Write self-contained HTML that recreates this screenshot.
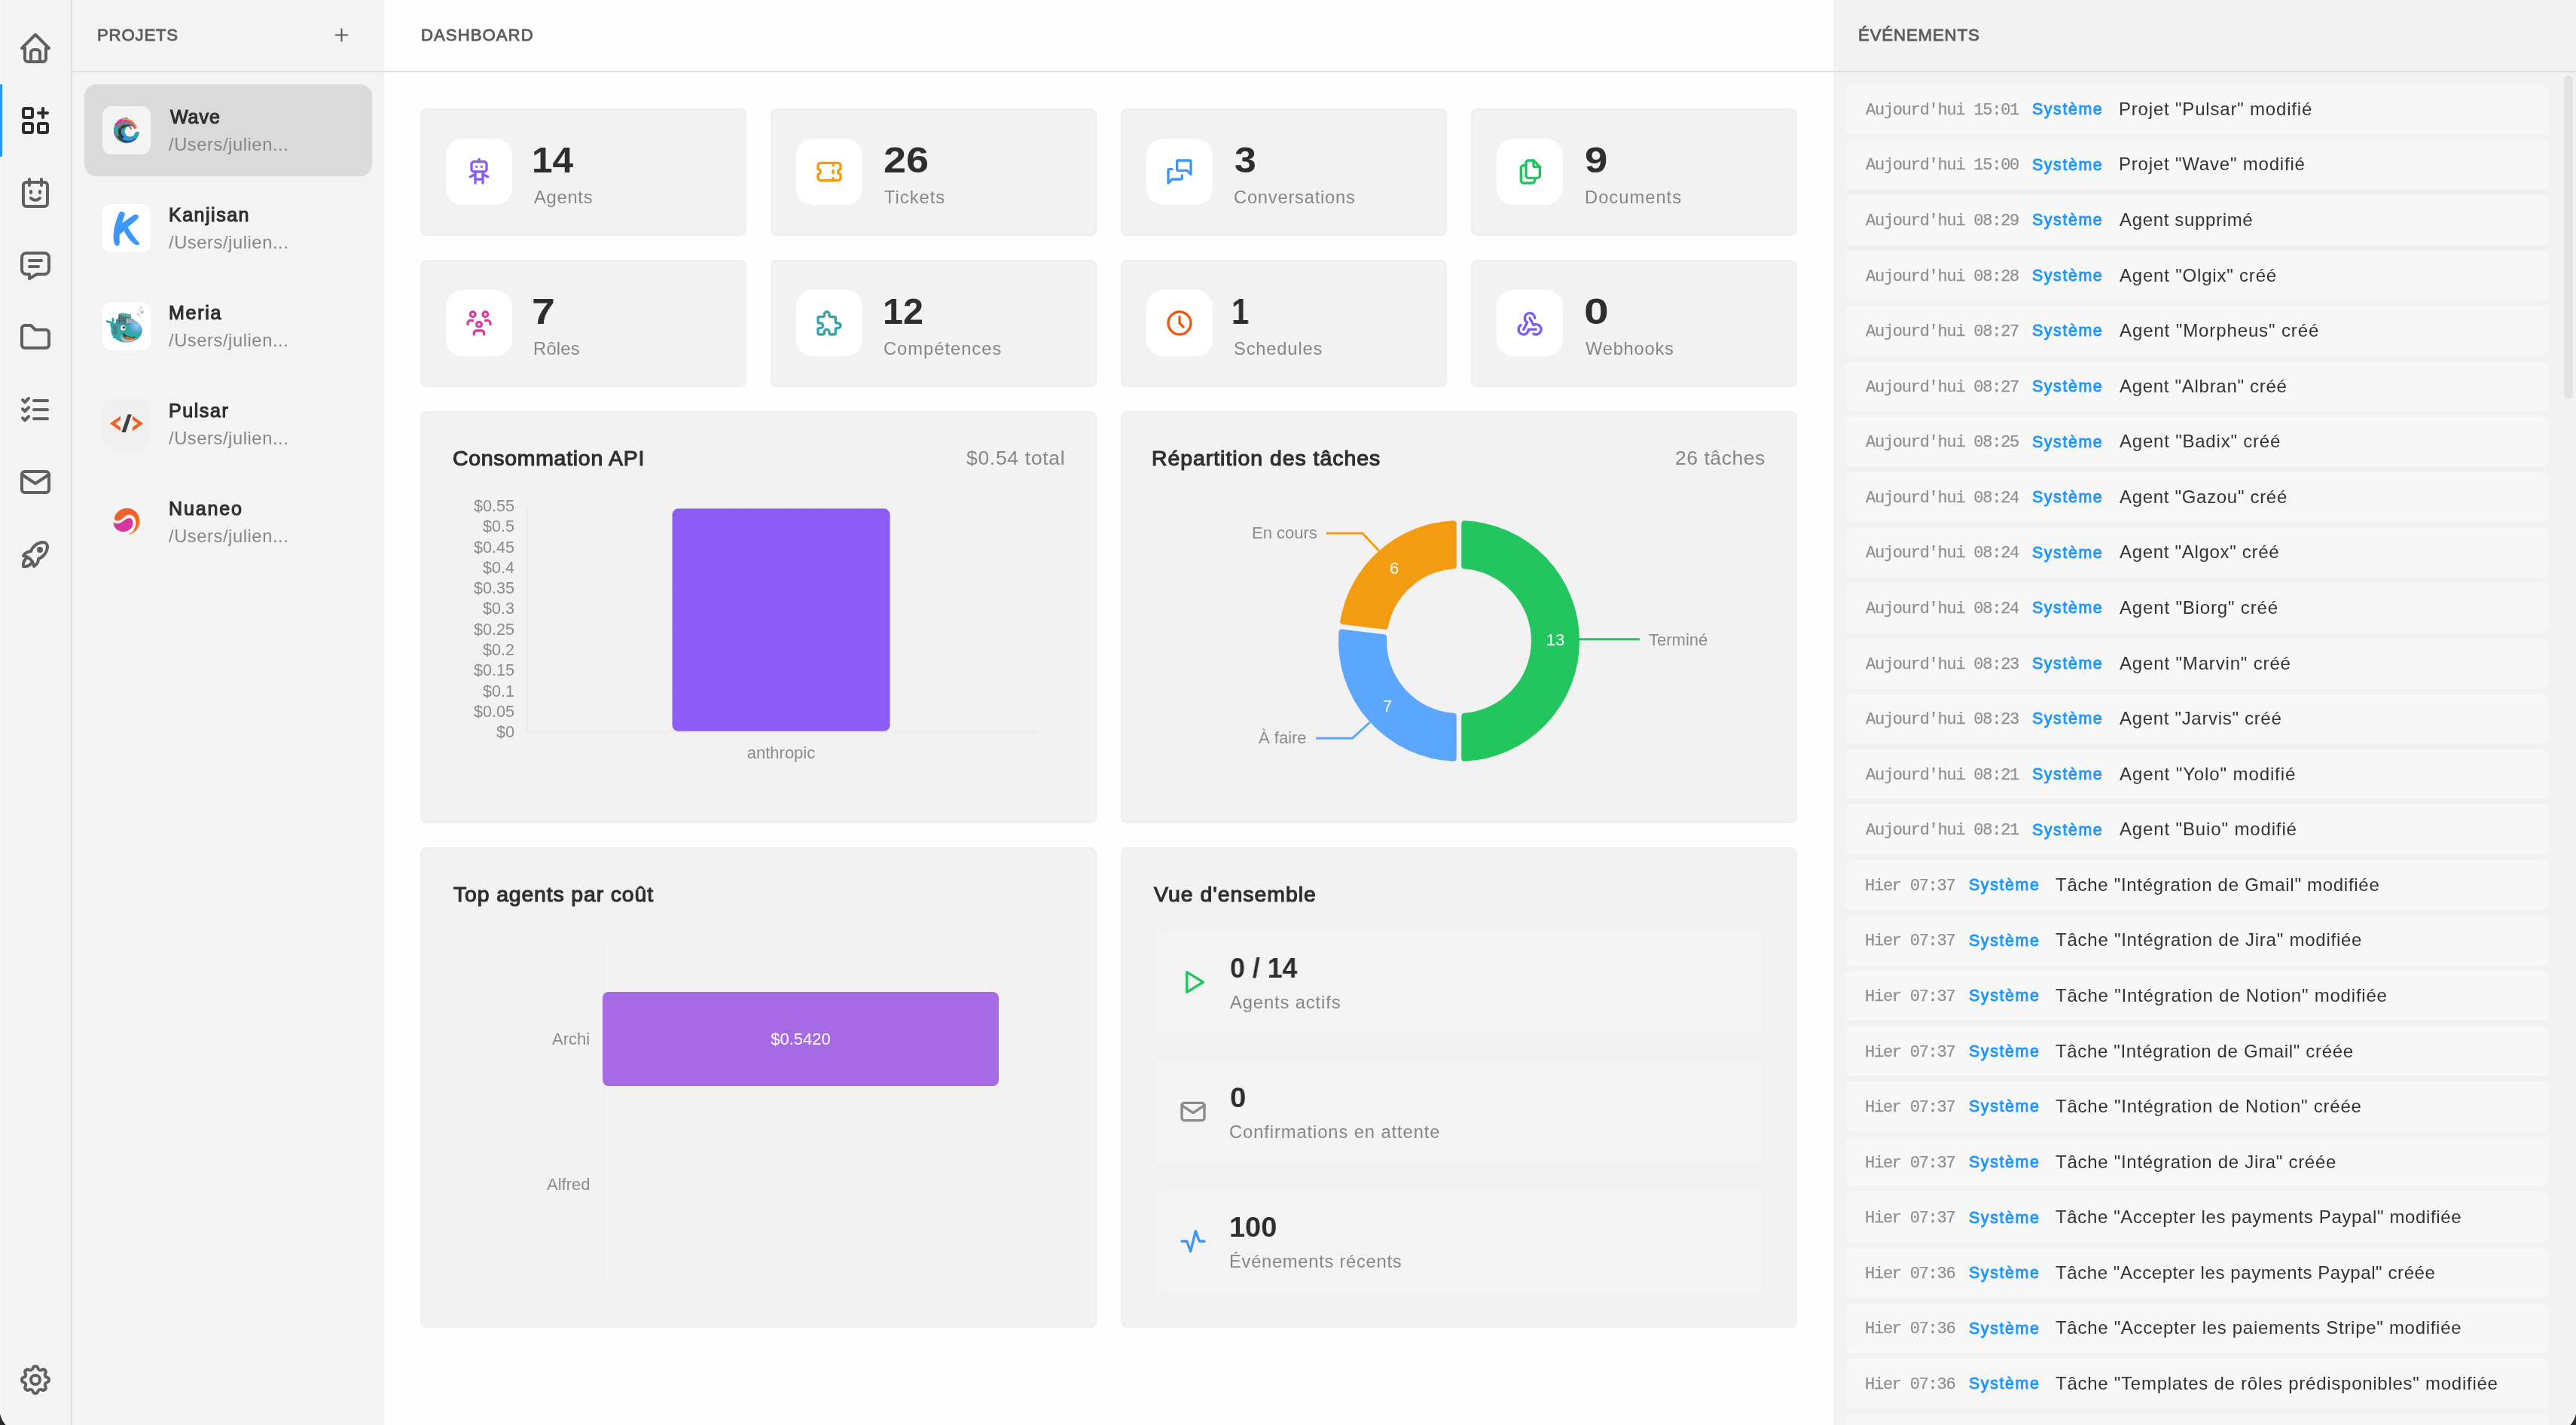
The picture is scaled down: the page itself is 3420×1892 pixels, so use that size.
<!DOCTYPE html>
<html lang="fr"><head><meta charset="utf-8"><title>Dashboard</title>
<style>
html,body{margin:0;padding:0}
body{width:3420px;height:1892px;position:relative;overflow:hidden;background:#f3f3f3;font-family:'Liberation Sans',sans-serif}
.b{position:absolute;display:block}
.t{position:absolute;white-space:pre;line-height:1;font-family:'Liberation Sans',sans-serif;will-change:transform}
</style></head><body>
<div class="b" style="left:0px;top:0px;width:96px;height:1892px;background:#f3f3f3;border-radius:0px;"></div>
<div class="b" style="left:0px;top:0px;width:2px;height:1892px;background:#f7f7f7;border-radius:0px;"></div>
<div class="b" style="left:94px;top:0px;width:2px;height:1892px;background:#e1e1e1;border-radius:0px;"></div>
<div class="b" style="left:96px;top:0px;width:414px;height:1892px;background:#f3f3f3;border-radius:0px;"></div>
<div class="b" style="left:510px;top:0px;width:1924px;height:1892px;background:#fefefe;border-radius:0px;"></div>
<div class="b" style="left:2434px;top:0px;width:986px;height:1892px;background:#f2f2f2;border-radius:0px;"></div>
<div class="b" style="left:96px;top:94px;width:3324px;height:2px;background:#dedede;border-radius:0px;"></div>
<div class="b" style="left:0px;top:112px;width:3px;height:96px;background:#2a93ee;border-radius:0px;"></div>
<svg class="b" style="left:23.0px;top:40.0px" width="48" height="48" viewBox="0 0 24 24" fill="none" stroke="#5f6062" stroke-width="2" stroke-linecap="round" stroke-linejoin="round" ><path d="M5 12l-2 0l9 -9l9 9l-2 0"/><path d="M5 12v7a2 2 0 0 0 2 2h10a2 2 0 0 0 2 -2v-7"/><path d="M9 21v-6a2 2 0 0 1 2 -2h2a2 2 0 0 1 2 2v6"/></svg>
<svg class="b" style="left:23.0px;top:136.0px" width="48" height="48" viewBox="0 0 24 24" fill="none" stroke="#2c2c2c" stroke-width="2" stroke-linecap="round" stroke-linejoin="round" ><path d="M4 4m0 1a1 1 0 0 1 1 -1h4a1 1 0 0 1 1 1v4a1 1 0 0 1 -1 1h-4a1 1 0 0 1 -1 -1z"/><path d="M4 14m0 1a1 1 0 0 1 1 -1h4a1 1 0 0 1 1 1v4a1 1 0 0 1 -1 1h-4a1 1 0 0 1 -1 -1z"/><path d="M14 14m0 1a1 1 0 0 1 1 -1h4a1 1 0 0 1 1 1v4a1 1 0 0 1 -1 1h-4a1 1 0 0 1 -1 -1z"/><path d="M14 7l6 0"/><path d="M17 4l0 6"/></svg>
<svg class="b" style="left:23.0px;top:232.0px" width="48" height="48" viewBox="0 0 24 24" fill="none" stroke="#5f6062" stroke-width="2" stroke-linecap="round" stroke-linejoin="round" ><path d="M4 7a2 2 0 0 1 2 -2h12a2 2 0 0 1 2 2v12a2 2 0 0 1 -2 2h-12a2 2 0 0 1 -2 -2z"/><path d="M16 3v4"/><path d="M8 3v4"/><path d="M9 11v1"/><path d="M15 11v1"/><path d="M9 15.5c.9 .9 1.9 1.4 3 1.4s2.1 -.5 3 -1.4"/></svg>
<svg class="b" style="left:23.0px;top:328.0px" width="48" height="48" viewBox="0 0 24 24" fill="none" stroke="#5f6062" stroke-width="2" stroke-linecap="round" stroke-linejoin="round" ><path d="M8 9h8"/><path d="M8 13h6"/><path d="M18 4a3 3 0 0 1 3 3v8a3 3 0 0 1 -3 3h-5l-5 3v-3h-2a3 3 0 0 1 -3 -3v-8a3 3 0 0 1 3 -3h12z"/></svg>
<svg class="b" style="left:23.0px;top:424.0px" width="48" height="48" viewBox="0 0 24 24" fill="none" stroke="#5f6062" stroke-width="2" stroke-linecap="round" stroke-linejoin="round" ><path d="M5 4h4l3 3h7a2 2 0 0 1 2 2v8a2 2 0 0 1 -2 2h-14a2 2 0 0 1 -2 -2v-11a2 2 0 0 1 2 -2"/></svg>
<svg class="b" style="left:23.0px;top:520.0px" width="48" height="48" viewBox="0 0 24 24" fill="none" stroke="#5f6062" stroke-width="2" stroke-linecap="round" stroke-linejoin="round" ><path d="M3.5 5.5l1.5 1.5l2.5 -2.5"/><path d="M3.5 11.5l1.5 1.5l2.5 -2.5"/><path d="M3.5 17.5l1.5 1.5l2.5 -2.5"/><path d="M11 6l9 0"/><path d="M11 12l9 0"/><path d="M11 18l9 0"/></svg>
<svg class="b" style="left:23.0px;top:616.0px" width="48" height="48" viewBox="0 0 24 24" fill="none" stroke="#5f6062" stroke-width="2" stroke-linecap="round" stroke-linejoin="round" ><path d="M3 7a2 2 0 0 1 2 -2h14a2 2 0 0 1 2 2v10a2 2 0 0 1 -2 2h-14a2 2 0 0 1 -2 -2v-10z"/><path d="M3 7l9 6l9 -6"/></svg>
<svg class="b" style="left:23.0px;top:712.0px" width="48" height="48" viewBox="0 0 24 24" fill="none" stroke="#5f6062" stroke-width="2" stroke-linecap="round" stroke-linejoin="round" ><path d="M4 13a8 8 0 0 1 7 7a6 6 0 0 0 3 -5a9 9 0 0 0 6 -8a3 3 0 0 0 -3 -3a9 9 0 0 0 -8 6a6 6 0 0 0 -5 3"/><path d="M7 14a6 6 0 0 0 -3 6a6 6 0 0 0 6 -3"/><path d="M15 9m-1 0a1 1 0 1 0 2 0a1 1 0 1 0 -2 0"/></svg>
<svg class="b" style="left:23.0px;top:1808.0px" width="48" height="48" viewBox="0 0 24 24" fill="none" stroke="#5f6062" stroke-width="2" stroke-linecap="round" stroke-linejoin="round" ><path d="M10.325 4.317c.426 -1.756 2.924 -1.756 3.35 0a1.724 1.724 0 0 0 2.573 1.066c1.543 -.94 3.31 .826 2.37 2.37a1.724 1.724 0 0 0 1.065 2.572c1.756 .426 1.756 2.924 0 3.35a1.724 1.724 0 0 0 -1.066 2.573c.94 1.543 -.826 3.31 -2.37 2.37a1.724 1.724 0 0 0 -2.572 1.065c-.426 1.756 -2.924 1.756 -3.35 0a1.724 1.724 0 0 0 -2.573 -1.066c-1.543 .94 -3.31 -.826 -2.37 -2.37a1.724 1.724 0 0 0 -1.065 -2.572c-1.756 -.426 -1.756 -2.924 0 -3.35a1.724 1.724 0 0 0 1.066 -2.573c-.94 -1.543 .826 -3.31 2.37 -2.37c1 .608 2.296 .07 2.572 -1.065z"/><path d="M9 12a3 3 0 1 0 6 0a3 3 0 0 0 -6 0"/></svg>
<div class="t" style="left:129.33px;top:36.23px;font-size:22.2px;font-weight:400;color:#5c5c5c;letter-spacing:0.804px;-webkit-text-stroke:0.85px #5c5c5c;">PROJETS</div>
<svg class="b" style="left:440.4px;top:33.0px" width="27" height="27" viewBox="0 0 24 24" fill="none" stroke="#58595b" stroke-width="1.8" stroke-linecap="round" stroke-linejoin="round" ><path d="M12 5l0 14"/><path d="M5 12l14 0"/></svg>
<div class="b" style="left:112px;top:112px;width:382px;height:122px;background:#dadada;border-radius:16px;"></div>
<div class="t" style="left:225.65px;top:142.55px;font-size:25px;font-weight:400;color:#2f2f2f;letter-spacing:0.943px;-webkit-text-stroke:1.1px #2f2f2f;">Wave</div>
<div class="t" style="left:224.00px;top:181.05px;font-size:23.7px;font-weight:400;color:#868686;letter-spacing:0.581px;">/Users/julien...</div>
<div class="t" style="left:224.25px;top:272.55px;font-size:25px;font-weight:400;color:#2f2f2f;letter-spacing:1.515px;-webkit-text-stroke:1.1px #2f2f2f;">Kanjisan</div>
<div class="t" style="left:224.00px;top:311.06px;font-size:23.7px;font-weight:400;color:#868686;letter-spacing:0.581px;">/Users/julien...</div>
<div class="t" style="left:224.25px;top:402.55px;font-size:25px;font-weight:400;color:#2f2f2f;letter-spacing:1.748px;-webkit-text-stroke:1.1px #2f2f2f;">Meria</div>
<div class="t" style="left:224.00px;top:441.06px;font-size:23.7px;font-weight:400;color:#868686;letter-spacing:0.581px;">/Users/julien...</div>
<div class="t" style="left:224.25px;top:532.55px;font-size:25px;font-weight:400;color:#2f2f2f;letter-spacing:1.573px;-webkit-text-stroke:1.1px #2f2f2f;">Pulsar</div>
<div class="t" style="left:224.00px;top:571.06px;font-size:23.7px;font-weight:400;color:#868686;letter-spacing:0.581px;">/Users/julien...</div>
<div class="t" style="left:224.25px;top:662.55px;font-size:25px;font-weight:400;color:#2f2f2f;letter-spacing:1.866px;-webkit-text-stroke:1.1px #2f2f2f;">Nuaneo</div>
<div class="t" style="left:224.00px;top:701.06px;font-size:23.7px;font-weight:400;color:#868686;letter-spacing:0.581px;">/Users/julien...</div>
<svg class="b" style="left:136px;top:141px" width="64" height="64" viewBox="0 0 64 64"><rect width="64" height="64" rx="12" fill="#f4f4f4"/><g transform="translate(32,32.2)"><clipPath id="wc"><circle r="17.2"/></clipPath><g clip-path="url(#wc)"><circle r="17.2" fill="#2fa5a1"/><path d="M-11.06 13.18A17.2 17.2 0 0 1 -17.03 2.39L-14.46 2.03A14.6 14.6 0 0 0 -9.38 11.18Z" fill="#7b7b7b" /><path d="M15.78 6.27A15.4 15.4 0 0 1 -12.10 7.73L-9.98 6.60A13.0 13.0 0 0 0 13.55 5.37Z" fill="#3d3d3d" /><path d="M15.80 3.26A13.0 13.0 0 0 1 -9.87 2.81L-4.92 2.11A8.0 8.0 0 0 0 10.88 2.39Z" fill="#2b95ff" /><path d="M-5.27 11.35A12.2 12.2 0 0 1 -1.96 -10.78L-0.97 -7.11A8.4 8.4 0 0 0 -3.25 8.12Z" fill="#353535" /><path d="M11.18 7.98A9.3 9.3 0 1 1 0.67 -7.03L1.64 -4.94A7.0 7.0 0 1 0 9.55 6.35Z" fill="#2fa5a1" /><path d="M-16.94 -7.65A16.9 16.9 0 0 1 14.34 3.73L10.31 3.02A12.8 12.8 0 0 0 -13.39 -5.60Z" fill="#d8389f" /><path d="M-6.67 -15.52A16.9 16.9 0 0 1 14.44 3.15L12.55 2.89A15.0 15.0 0 0 0 -6.18 -13.69Z" fill="#f6923c" /><path d="M0.30 -13.97A15.0 15.0 0 0 1 12.55 2.89L11.76 2.78A14.2 14.2 0 0 0 0.17 -13.18Z" fill="#ea6a8a" /><path d="M-12.49 -4.01A12.8 12.8 0 0 1 11.23 -3.18L7.66 -1.88A9.0 9.0 0 0 0 -9.02 -2.46Z" fill="#7d7d7d" /><path d="M-6.29 -3.10A9.0 9.0 0 0 1 6.00 -6.39L5.10 -4.84A7.2 7.2 0 0 0 -4.74 -2.20Z" fill="#353535" /><path d="M3.94 -28.54A30 30 0 0 1 26.81 8.06L14.00 4.86A16.8 16.8 0 0 0 1.19 -15.63Z" fill="#f4f4f4" /><path d="M17.07 2.10A17.2 17.2 0 0 1 13.18 11.06L9.42 7.91A12.3 12.3 0 0 0 12.21 1.50Z" fill="#2fa5a1" /><circle cx="4.6" cy="1.4" r="7.0" fill="#f4f4f4"/><path d="M10.5 -1.6 L12.6 -2.8 L20 -3.6 L20 0.4 L15.0 0.9 L11.5 3 Z" fill="#f4f4f4"/><path d="M3.0 -5.0 C5.4 -5.4 7 -3.8 6.9 -1.6 C6.4 -0.7 5.2 -0.9 5.1 -1.7 C5.0 -2.8 4.3 -3.3 3.2 -3.5 Z" fill="#7d7d7d"/></g></g></svg>
<svg class="b" style="left:136px;top:271px" width="64" height="64" viewBox="0 0 64 64"><rect width="64" height="64" rx="12" fill="#ffffff"/><path d="M23.2 10.2 C26 9.4 30.4 11.2 29.8 13.6 L26 25.3 L41 14.8 C44.5 12.6 49.5 14.5 47.6 18.2 C44 22.5 38 26.5 33.6 30.6 C38 38 43.5 46 49.6 52.3 L47.8 54 C46 54.8 44.5 54.2 43 53.2 C37 49.2 32.5 43 28.6 35.4 L23.4 40 C22 42 22.6 45 22.9 49.9 C22.8 52.5 22.3 55.4 20 55.3 C17.5 54.8 16.2 53.5 15.9 52.4 C14.2 47 14.4 42 15 37.5 C16 28 19 18 23.2 10.2 Z" fill="#3d96fd"/></svg>
<svg class="b" style="left:136px;top:401px" width="64" height="64" viewBox="0 0 64 64"><rect width="64" height="64" rx="12" fill="#ffffff"/><ellipse cx="32" cy="38" rx="20.6" ry="15.6" fill="#31a7a7"/>
<path d="M12 36 C10 31 9 28 12.5 27.5 C8 29 5 27.5 4 24.6 C8 24 11 25 12.8 26.5 C12 23 12.5 21 14 20.2 C16 22 16 25 14.6 27.6 C16.5 29 18 32 18 35 Z" fill="#31a7a7"/>
<path d="M18 29.5 L18 23 L21 22 L21 16 L26.5 14.6 L38 16.8 L38 22 L41.5 22.5 L41.5 30 Z" fill="#4a8f93"/>
<path d="M32 22 L41.5 22.5 L41.5 28 L32 28 Z" fill="#b9bcbd"/>
<path d="M21 16 L26.5 14.6 L38 16.8 L38 20 L26.5 18 L21 19.5 Z" fill="#5fb0b2"/>
<path d="M22.5 17 V28 M25 16.5 V28.5 M27.5 18.5 V29 M30 19 V29 M21.5 21.5 H31 M19 25 H31 M23 18.5 L26 17.5" stroke="#4a4f52" stroke-width="0.9" fill="none" opacity="0.75"/>
<path d="M33 23.5 H41 M34.5 22.5 V27.5 M37 22.5 V27.5 M39.5 22.5 V27.5" stroke="#8c9091" stroke-width="0.7" fill="none"/>
<defs><radialGradient id="wg" cx="0.62" cy="0.4" r="0.6"><stop offset="0" stop-color="#a9cdf6" stop-opacity="0.95"/><stop offset="0.55" stop-color="#6fb0ee" stop-opacity="0.7"/><stop offset="1" stop-color="#31a7a7" stop-opacity="0"/></radialGradient></defs><clipPath id="wb"><ellipse cx="32" cy="38" rx="20.6" ry="15.6"/></clipPath><ellipse cx="43" cy="33.5" rx="11" ry="11" fill="url(#wg)" clip-path="url(#wb)"/>
<path d="M13.5 31 L20 33 L19.5 42 L16 44 C14 40 13 35 13.5 31 Z" fill="#55777a" opacity="0.8"/>
<path d="M24 44 C28 50 38 52 45 47 C43 52 36 54.5 30 53.4 C26 52.5 23.5 48 24 44 Z" fill="#b4b6b7"/>
<path d="M27.3 40.2 C31 45 38 47 44.8 46.6 C42 50.5 33 50.5 29.5 47 C28 45 27.3 42.5 27.3 40.2 Z" fill="#3a3a3a"/>
<path d="M30.5 45.3 C33 45 35 47.2 37 47.2 C38.5 46.8 40 47.4 41.2 48.2 L41 49.6 C37 50.2 33 49.5 30.6 47.4 Z" fill="#f4641f"/>
<circle cx="27.3" cy="34.4" r="3.3" fill="#f1f1f1"/><circle cx="28.4" cy="33.8" r="1.6" fill="#333"/>
<path d="M13 47.8 L16.5 44.5 L19 48 Z" fill="#31a7a7"/>
<circle cx="51" cy="7.6" r="1.4" fill="#c9c9c9"/><circle cx="52.6" cy="13.6" r="2.3" fill="#c4c4c4"/><circle cx="47.5" cy="16.4" r="1.8" fill="#cdcdcd"/><circle cx="48.8" cy="11" r="1.2" fill="#d0d0d0"/><circle cx="50.3" cy="19.6" r="1.1" fill="#d4d4d4"/><circle cx="53.5" cy="25" r="0.9" fill="#cfe2f7"/></svg>
<svg class="b" style="left:136px;top:531px" width="64" height="64" viewBox="0 0 64 64"><rect width="64" height="64" rx="12" fill="#efefef"/><path d="M9.9 31.3 L24.1 21.2 L24.1 26.2 L17.2 31.3 L24.1 36.3 L24.1 41.4 Z" fill="#f06022"/>
<path d="M54.1 31.3 L39.9 21.2 L39.9 26.2 L46.9 31.3 L39.9 36.3 L39.9 41.4 Z" fill="#f06022"/>
<path d="M33.6 19.3 L38.7 19.3 L30.8 43 L25.4 43 Z" fill="#404040"/></svg>
<svg class="b" style="left:136px;top:661px" width="64" height="64" viewBox="0 0 64 64"><rect width="64" height="64" rx="12" fill="#f4f4f4"/><path d="M16 26.5 C17 20 24 14 32 13.8 C42 13.6 49.6 21.5 49.6 31.3 C49.6 40 43 47.5 34.5 49 C40 46 43.6 41 44.3 35 C45 28 42 23.5 36.5 22.6 C32 22.2 29 25 26 28 C23 30.8 19 31 17 29.4 C16 28.6 15.8 27.6 16 26.5 Z" fill="#ee622b"/>
<path d="M46.2 22.5 C48.6 26 49.6 29 49.6 31.3 C49.6 40 43 47.5 34.5 49 C41 46 46.6 40 47.2 33 C47.4 29 47 26 46.2 22.5 Z" fill="#f7931e" opacity="0.7"/><path d="M40 44.5 C38.5 46.5 36.5 48 34.5 49 C38 48.4 41 46.5 43.5 44 Z" fill="#f7931e" opacity="0.8"/>
<path d="M14.7 32.5 C18 34.7 22 34.5 26 32 C30 29 34.5 25.6 38 27.6 C41.5 30 41.3 37 37.5 41 C32.5 46.2 24 46.2 19 42 C15.8 39.2 14.4 35.5 14.7 32.5 Z" fill="#d6369d"/></svg>
<div class="t" style="left:559.32px;top:36.23px;font-size:22.2px;font-weight:400;color:#5c5c5c;letter-spacing:1.016px;-webkit-text-stroke:0.85px #5c5c5c;">DASHBOARD</div>
<div class="b" style="left:558px;top:144px;width:432.8px;height:169px;background:#f2f2f2;border-radius:8px;box-sizing:border-box;border:2px solid #eeeeee;"></div>
<div class="b" style="left:592px;top:184px;width:88px;height:88px;background:#ffffff;border-radius:22px;"></div>
<svg class="b" style="left:616.0px;top:208.0px" width="40" height="40" viewBox="0 0 24 24" fill="none" stroke="#8b5cf6" stroke-width="2" stroke-linecap="round" stroke-linejoin="round" ><path d="M6 4m0 2a2 2 0 0 1 2 -2h8a2 2 0 0 1 2 2v4a2 2 0 0 1 -2 2h-8a2 2 0 0 1 -2 -2z"/><path d="M12 2v2"/><path d="M9 12v9"/><path d="M15 12v9"/><path d="M5 16l4 -2"/><path d="M15 14l4 2"/><path d="M9 18h6"/><path d="M10 8v.01"/><path d="M14 8v.01"/></svg>
<div class="t" style="left:706.13px;top:187.78px;font-size:48.5px;font-weight:700;color:#2e2e2e;transform:scaleX(1.0221);transform-origin:left center;">14</div>
<div class="t" style="left:709.00px;top:250.96px;font-size:23.7px;font-weight:400;color:#868686;letter-spacing:0.760px;">Agents</div>
<div class="b" style="left:1023.1px;top:144px;width:432.8px;height:169px;background:#f2f2f2;border-radius:8px;box-sizing:border-box;border:2px solid #eeeeee;"></div>
<div class="b" style="left:1057.1px;top:184px;width:88px;height:88px;background:#ffffff;border-radius:22px;"></div>
<svg class="b" style="left:1081.1px;top:208.0px" width="40" height="40" viewBox="0 0 24 24" fill="none" stroke="#f39c12" stroke-width="2" stroke-linecap="round" stroke-linejoin="round" ><path d="M15 5l0 2"/><path d="M15 11l0 2"/><path d="M15 17l0 2"/><path d="M5 5h14a2 2 0 0 1 2 2v3a2 2 0 0 0 0 4v3a2 2 0 0 1 -2 2h-14a2 2 0 0 1 -2 -2v-3a2 2 0 0 0 0 -4v-3a2 2 0 0 1 2 -2"/></svg>
<div class="t" style="left:1173.29px;top:187.78px;font-size:48.5px;font-weight:700;color:#2e2e2e;transform:scaleX(1.1121);transform-origin:left center;">26</div>
<div class="t" style="left:1174.40px;top:250.96px;font-size:23.7px;font-weight:400;color:#868686;letter-spacing:0.984px;">Tickets</div>
<div class="b" style="left:1488.2px;top:144px;width:432.8px;height:169px;background:#f2f2f2;border-radius:8px;box-sizing:border-box;border:2px solid #eeeeee;"></div>
<div class="b" style="left:1522.2px;top:184px;width:88px;height:88px;background:#ffffff;border-radius:22px;"></div>
<svg class="b" style="left:1546.2px;top:208.0px" width="40" height="40" viewBox="0 0 24 24" fill="none" stroke="#3b96f5" stroke-width="2" stroke-linecap="round" stroke-linejoin="round" ><path d="M21 14l-3 -3h-7a1 1 0 0 1 -1 -1v-6a1 1 0 0 1 1 -1h9a1 1 0 0 1 1 1v10"/><path d="M14 15v2a1 1 0 0 1 -1 1h-7l-3 3v-10a1 1 0 0 1 1 -1h2"/></svg>
<div class="t" style="left:1638.73px;top:187.78px;font-size:48.5px;font-weight:700;color:#2e2e2e;transform:scaleX(1.0720);transform-origin:left center;">3</div>
<div class="t" style="left:1638.20px;top:250.96px;font-size:23.7px;font-weight:400;color:#868686;letter-spacing:0.786px;">Conversations</div>
<div class="b" style="left:1953.3px;top:144px;width:432.8px;height:169px;background:#f2f2f2;border-radius:8px;box-sizing:border-box;border:2px solid #eeeeee;"></div>
<div class="b" style="left:1987.3px;top:184px;width:88px;height:88px;background:#ffffff;border-radius:22px;"></div>
<svg class="b" style="left:2011.3px;top:208.0px" width="40" height="40" viewBox="0 0 24 24" fill="none" stroke="#22c55e" stroke-width="2" stroke-linecap="round" stroke-linejoin="round" ><path d="M15 3v4a1 1 0 0 0 1 1h4"/><path d="M18 17h-7a2 2 0 0 1 -2 -2v-10a2 2 0 0 1 2 -2h4l5 5v7a2 2 0 0 1 -2 2z"/><path d="M16 17v2a2 2 0 0 1 -2 2h-7a2 2 0 0 1 -2 -2v-10a2 2 0 0 1 2 -2h2"/></svg>
<div class="t" style="left:2103.88px;top:187.78px;font-size:48.5px;font-weight:700;color:#2e2e2e;transform:scaleX(1.1240);transform-origin:left center;">9</div>
<div class="t" style="left:2103.60px;top:250.96px;font-size:23.7px;font-weight:400;color:#868686;letter-spacing:1.030px;">Documents</div>
<div class="b" style="left:558px;top:345.3px;width:432.8px;height:169px;background:#f2f2f2;border-radius:8px;box-sizing:border-box;border:2px solid #eeeeee;"></div>
<div class="b" style="left:592px;top:385.3px;width:88px;height:88px;background:#ffffff;border-radius:22px;"></div>
<svg class="b" style="left:616.0px;top:409.3px" width="40" height="40" viewBox="0 0 24 24" fill="none" stroke="#d6409f" stroke-width="2" stroke-linecap="round" stroke-linejoin="round" ><path d="M10 13a2 2 0 1 0 4 0a2 2 0 0 0 -4 0"/><path d="M8 21v-1a2 2 0 0 1 2 -2h4a2 2 0 0 1 2 2v1"/><path d="M15 5a2 2 0 1 0 4 0a2 2 0 0 0 -4 0"/><path d="M17 10h2a2 2 0 0 1 2 2v1"/><path d="M5 5a2 2 0 1 0 4 0a2 2 0 0 0 -4 0"/><path d="M3 13v-1a2 2 0 0 1 2 -2h2"/></svg>
<div class="t" style="left:706.21px;top:389.07px;font-size:48.5px;font-weight:700;color:#2e2e2e;transform:scaleX(1.1435);transform-origin:left center;">7</div>
<div class="t" style="left:708.00px;top:452.25px;font-size:23.7px;font-weight:400;color:#868686;letter-spacing:0.271px;">Rôles</div>
<div class="b" style="left:1023.1px;top:345.3px;width:432.8px;height:169px;background:#f2f2f2;border-radius:8px;box-sizing:border-box;border:2px solid #eeeeee;"></div>
<div class="b" style="left:1057.1px;top:385.3px;width:88px;height:88px;background:#ffffff;border-radius:22px;"></div>
<svg class="b" style="left:1081.1px;top:409.3px" width="40" height="40" viewBox="0 0 24 24" fill="none" stroke="#38a3a5" stroke-width="2" stroke-linecap="round" stroke-linejoin="round" ><path d="M4 7h3a1 1 0 0 0 1 -1v-1a2 2 0 0 1 4 0v1a1 1 0 0 0 1 1h3a1 1 0 0 1 1 1v3a1 1 0 0 0 1 1h1a2 2 0 0 1 0 4h-1a1 1 0 0 0 -1 1v3a1 1 0 0 1 -1 1h-3a1 1 0 0 1 -1 -1v-1a2 2 0 0 0 -4 0v1a1 1 0 0 1 -1 1h-3a1 1 0 0 1 -1 -1v-3a1 1 0 0 1 1 -1h1a2 2 0 0 0 0 -4h-1a1 1 0 0 1 -1 -1v-3a1 1 0 0 1 1 -1"/></svg>
<div class="t" style="left:1172.01px;top:389.07px;font-size:48.5px;font-weight:700;color:#2e2e2e;transform:scaleX(0.9965);transform-origin:left center;">12</div>
<div class="t" style="left:1173.20px;top:452.25px;font-size:23.7px;font-weight:400;color:#868686;letter-spacing:1.009px;">Compétences</div>
<div class="b" style="left:1488.2px;top:345.3px;width:432.8px;height:169px;background:#f2f2f2;border-radius:8px;box-sizing:border-box;border:2px solid #eeeeee;"></div>
<div class="b" style="left:1522.2px;top:385.3px;width:88px;height:88px;background:#ffffff;border-radius:22px;"></div>
<svg class="b" style="left:1546.2px;top:409.3px" width="40" height="40" viewBox="0 0 24 24" fill="none" stroke="#e8590c" stroke-width="2" stroke-linecap="round" stroke-linejoin="round" ><path d="M3 12a9 9 0 1 0 18 0a9 9 0 0 0 -18 0"/><path d="M12 7v5l3 3"/></svg>
<div class="t" style="left:1634.64px;top:389.07px;font-size:48.5px;font-weight:700;color:#2e2e2e;transform:scaleX(0.8600);transform-origin:left center;">1</div>
<div class="t" style="left:1638.00px;top:452.25px;font-size:23.7px;font-weight:400;color:#868686;letter-spacing:0.841px;">Schedules</div>
<div class="b" style="left:1953.3px;top:345.3px;width:432.8px;height:169px;background:#f2f2f2;border-radius:8px;box-sizing:border-box;border:2px solid #eeeeee;"></div>
<div class="b" style="left:1987.3px;top:385.3px;width:88px;height:88px;background:#ffffff;border-radius:22px;"></div>
<svg class="b" style="left:2011.3px;top:409.3px" width="40" height="40" viewBox="0 0 24 24" fill="none" stroke="#7c5cf0" stroke-width="2" stroke-linecap="round" stroke-linejoin="round" ><path d="M4.876 13.61a4 4 0 1 0 6.124 3.39h6"/><path d="M15.066 20.502a4 4 0 1 0 1.934 -7.502c-.706 0 -1.424 .179 -2 .5l-3 -5.5"/><path d="M16 8a4 4 0 1 0 -8 0c0 1.506 .77 2.818 2 3.5l-3 5.5"/></svg>
<div class="t" style="left:2103.29px;top:389.07px;font-size:48.5px;font-weight:700;color:#2e2e2e;transform:scaleX(1.2125);transform-origin:left center;">0</div>
<div class="t" style="left:2104.50px;top:452.25px;font-size:23.7px;font-weight:400;color:#868686;letter-spacing:0.765px;">Webhooks</div>
<div class="b" style="left:558px;top:546.3px;width:898px;height:547px;background:#f2f2f2;border-radius:8px;box-sizing:border-box;border:2px solid #eeeeee;"></div>
<div class="b" style="left:1488.2px;top:546.3px;width:898px;height:547px;background:#f2f2f2;border-radius:8px;box-sizing:border-box;border:2px solid #eeeeee;"></div>
<div class="b" style="left:558px;top:1125.3px;width:898px;height:638px;background:#f2f2f2;border-radius:8px;box-sizing:border-box;border:2px solid #eeeeee;"></div>
<div class="b" style="left:1488.2px;top:1125.3px;width:898px;height:638px;background:#f2f2f2;border-radius:8px;box-sizing:border-box;border:2px solid #eeeeee;"></div>
<div class="t" style="left:600.98px;top:593.66px;font-size:28.4px;font-weight:400;color:#2f2f2f;letter-spacing:0.751px;-webkit-text-stroke:1.15px #2f2f2f;">Consommation API</div>
<div class="t" style="left:1283.40px;top:595.27px;font-size:26.5px;font-weight:400;color:#868686;letter-spacing:0.692px;">$0.54 total</div>
<div class="t" style="left:1529.48px;top:593.66px;font-size:28.4px;font-weight:400;color:#2f2f2f;letter-spacing:0.983px;-webkit-text-stroke:1.15px #2f2f2f;">Répartition des tâches</div>
<div class="t" style="left:2224.00px;top:595.27px;font-size:26.5px;font-weight:400;color:#868686;letter-spacing:0.542px;">26 tâches</div>
<div class="t" style="left:601.68px;top:1173.06px;font-size:28.4px;font-weight:400;color:#2f2f2f;letter-spacing:0.870px;-webkit-text-stroke:1.15px #2f2f2f;">Top agents par coût</div>
<div class="t" style="left:1531.67px;top:1173.06px;font-size:28.4px;font-weight:400;color:#2f2f2f;letter-spacing:1.014px;-webkit-text-stroke:1.15px #2f2f2f;">Vue d'ensemble</div>
<svg class="b" style="left:558px;top:546px" width="898" height="547" viewBox="558 546 898 547"><line x1="700" x2="1375" y1="671.70" y2="671.70" stroke="#eeeeee" stroke-width="2" stroke-dasharray="5 7"/><line x1="700" x2="1375" y1="698.97" y2="698.97" stroke="#eeeeee" stroke-width="2" stroke-dasharray="5 7"/><line x1="700" x2="1375" y1="726.24" y2="726.24" stroke="#eeeeee" stroke-width="2" stroke-dasharray="5 7"/><line x1="700" x2="1375" y1="753.51" y2="753.51" stroke="#eeeeee" stroke-width="2" stroke-dasharray="5 7"/><line x1="700" x2="1375" y1="780.78" y2="780.78" stroke="#eeeeee" stroke-width="2" stroke-dasharray="5 7"/><line x1="700" x2="1375" y1="808.05" y2="808.05" stroke="#eeeeee" stroke-width="2" stroke-dasharray="5 7"/><line x1="700" x2="1375" y1="835.32" y2="835.32" stroke="#eeeeee" stroke-width="2" stroke-dasharray="5 7"/><line x1="700" x2="1375" y1="862.59" y2="862.59" stroke="#eeeeee" stroke-width="2" stroke-dasharray="5 7"/><line x1="700" x2="1375" y1="889.86" y2="889.86" stroke="#eeeeee" stroke-width="2" stroke-dasharray="5 7"/><line x1="700" x2="1375" y1="917.13" y2="917.13" stroke="#eeeeee" stroke-width="2" stroke-dasharray="5 7"/><line x1="700" x2="1375" y1="944.40" y2="944.40" stroke="#eeeeee" stroke-width="2" stroke-dasharray="5 7"/><line x1="700" x2="700" y1="671" y2="971.5" stroke="#ebebeb" stroke-width="2"/><line x1="700" x2="1375" y1="971.5" y2="971.5" stroke="#ebebeb" stroke-width="2"/><rect x="892.5" y="675.3" width="289.1" height="295.5" rx="8" fill="#8b5cf6"/></svg>
<div class="t" style="top:661.14px;font-size:21.6px;font-weight:400;color:#8b8b8b;right:2736.70px;">$0.55</div>
<div class="t" style="top:688.41px;font-size:21.6px;font-weight:400;color:#8b8b8b;right:2736.70px;">$0.5</div>
<div class="t" style="top:715.68px;font-size:21.6px;font-weight:400;color:#8b8b8b;right:2736.70px;">$0.45</div>
<div class="t" style="top:742.95px;font-size:21.6px;font-weight:400;color:#8b8b8b;right:2736.70px;">$0.4</div>
<div class="t" style="top:770.22px;font-size:21.6px;font-weight:400;color:#8b8b8b;right:2736.70px;">$0.35</div>
<div class="t" style="top:797.49px;font-size:21.6px;font-weight:400;color:#8b8b8b;right:2736.70px;">$0.3</div>
<div class="t" style="top:824.76px;font-size:21.6px;font-weight:400;color:#8b8b8b;right:2736.70px;">$0.25</div>
<div class="t" style="top:852.03px;font-size:21.6px;font-weight:400;color:#8b8b8b;right:2736.70px;">$0.2</div>
<div class="t" style="top:879.30px;font-size:21.6px;font-weight:400;color:#8b8b8b;right:2736.70px;">$0.15</div>
<div class="t" style="top:906.57px;font-size:21.6px;font-weight:400;color:#8b8b8b;right:2736.70px;">$0.1</div>
<div class="t" style="top:933.84px;font-size:21.6px;font-weight:400;color:#8b8b8b;right:2736.70px;">$0.05</div>
<div class="t" style="top:961.11px;font-size:21.6px;font-weight:400;color:#8b8b8b;right:2736.70px;">$0</div>
<div class="t" style="top:988.60px;font-size:22px;font-weight:400;color:#8b8b8b;left:36.70px;width:2000px;text-align:center;">anthropic</div>
<svg class="b" style="left:1488px;top:546px" width="898" height="547" viewBox="1488 546 898 547"><path d="M1944.30 695.17 A156.0 156.0 0 0 1 1944.30 1006.83 L1944.29 950.73 A100.0 100.0 0 0 0 1944.29 751.27 Z" fill="#22c55e" stroke="#22c55e" stroke-width="8" stroke-linejoin="round"/><path d="M1929.70 1006.83 A156.0 156.0 0 0 1 1781.43 839.46 L1837.11 846.22 A100.0 100.0 0 0 0 1929.71 950.73 Z" fill="#5ba7ff" stroke="#5ba7ff" stroke-width="8" stroke-linejoin="round"/><path d="M1783.19 824.97 A156.0 156.0 0 0 1 1929.70 695.17 L1929.71 751.27 A100.0 100.0 0 0 0 1838.87 831.74 Z" fill="#f39c12" stroke="#f39c12" stroke-width="8" stroke-linejoin="round"/><polyline points="1760.9,707.9 1808.9,707.9 1830.9,731.5" fill="none" stroke="#f39c12" stroke-width="3" stroke-linejoin="round"/><polyline points="2097,848.8 2177,848.8" fill="none" stroke="#22c55e" stroke-width="3"/><polyline points="1747,980.2 1795.5,980.2 1818.7,959" fill="none" stroke="#5ba7ff" stroke-width="3" stroke-linejoin="round"/></svg>
<div class="t" style="top:697.10px;font-size:22px;font-weight:400;color:#8b8b8b;right:1671.30px;">En cours</div>
<div class="t" style="top:838.80px;font-size:22px;font-weight:400;color:#8b8b8b;left:2189.20px;">Terminé</div>
<div class="t" style="top:969.40px;font-size:22px;font-weight:400;color:#8b8b8b;right:1685.60px;">À faire</div>
<div class="t" style="top:744.30px;font-size:22px;font-weight:400;color:#fff;left:851.30px;width:2000px;text-align:center;">6</div>
<div class="t" style="top:838.80px;font-size:22px;font-weight:400;color:#fff;left:1065.40px;width:2000px;text-align:center;">13</div>
<div class="t" style="top:926.70px;font-size:22px;font-weight:400;color:#fff;left:841.90px;width:2000px;text-align:center;">7</div>
<div class="b" style="left:799.5px;top:1249px;width:2px;height:453px;background:#eeeeee;border-radius:0px;"></div>
<div class="b" style="left:800.2px;top:1317.4px;width:525.8px;height:124.5px;background:#a66be4;border-radius:8px;"></div>
<div class="t" style="top:1368.80px;font-size:22px;font-weight:400;color:#8b8b8b;right:2636.50px;">Archi</div>
<div class="t" style="top:1561.70px;font-size:22px;font-weight:400;color:#8b8b8b;right:2636.50px;">Alfred</div>
<div class="t" style="top:1368.80px;font-size:22px;font-weight:400;color:#fff;left:63.10px;width:2000px;text-align:center;">$0.5420</div>
<div class="b" style="left:1531px;top:1230.5px;width:812px;height:146.5px;background:#f3f3f3;border-radius:8px;box-sizing:border-box;border:2px solid #efefef;"></div>
<svg class="b" style="left:1564.2px;top:1284.0px" width="40" height="40" viewBox="0 0 24 24" fill="none" stroke="#22c55e" stroke-width="2" stroke-linecap="round" stroke-linejoin="round" ><path d="M7 4v16l13 -8z"/></svg>
<div class="t" style="left:1632.64px;top:1267.28px;font-size:37.2px;font-weight:700;color:#2e2e2e;transform:scaleX(0.9615);transform-origin:left center;">0 / 14</div>
<div class="t" style="left:1633.40px;top:1319.56px;font-size:23.7px;font-weight:400;color:#868686;letter-spacing:0.911px;">Agents actifs</div>
<div class="b" style="left:1531px;top:1402.5px;width:812px;height:146.5px;background:#f3f3f3;border-radius:8px;box-sizing:border-box;border:2px solid #efefef;"></div>
<svg class="b" style="left:1564.2px;top:1456.0px" width="40" height="40" viewBox="0 0 24 24" fill="none" stroke="#8a8a8a" stroke-width="2" stroke-linecap="round" stroke-linejoin="round" ><path d="M3 7a2 2 0 0 1 2 -2h14a2 2 0 0 1 2 2v10a2 2 0 0 1 -2 2h-14a2 2 0 0 1 -2 -2v-10z"/><path d="M3 7l9 6l9 -6"/></svg>
<div class="t" style="left:1633.07px;top:1439.28px;font-size:37.2px;font-weight:700;color:#2e2e2e;transform:scaleX(1.0316);transform-origin:left center;">0</div>
<div class="t" style="left:1632.30px;top:1491.56px;font-size:23.7px;font-weight:400;color:#868686;letter-spacing:0.930px;">Confirmations en attente</div>
<div class="b" style="left:1531px;top:1574.5px;width:812px;height:146.5px;background:#f3f3f3;border-radius:8px;box-sizing:border-box;border:2px solid #efefef;"></div>
<svg class="b" style="left:1564.2px;top:1628.0px" width="40" height="40" viewBox="0 0 24 24" fill="none" stroke="#3b96f5" stroke-width="2" stroke-linecap="round" stroke-linejoin="round" ><path d="M3 12h4l3 8l4 -16l3 8h4"/></svg>
<div class="t" style="left:1631.66px;top:1611.28px;font-size:37.2px;font-weight:700;color:#2e2e2e;transform:scaleX(1.0208);transform-origin:left center;">100</div>
<div class="t" style="left:1632.30px;top:1663.56px;font-size:23.7px;font-weight:400;color:#868686;letter-spacing:0.742px;">Événements récents</div>
<div class="t" style="left:2466.62px;top:36.23px;font-size:22.2px;font-weight:400;color:#5c5c5c;letter-spacing:0.875px;-webkit-text-stroke:0.85px #5c5c5c;">ÉVÉNEMENTS</div>
<div class="b" style="left:2450px;top:112.0px;width:934px;height:65.6px;background:#f7f7f7;border-radius:8px;"></div>
<div class="t" style="left:2476.82px;top:135.88px;font-size:22px;font-weight:400;color:#8f8f8f;letter-spacing:-1.260px;-webkit-text-stroke:0.25px #8f8f8f;font-family:'Liberation Mono',monospace;">Aujourd'hui 15:01</div>
<div class="t" style="left:2698.25px;top:135.21px;font-size:21.4px;font-weight:400;color:#1e96ff;letter-spacing:1.581px;-webkit-text-stroke:0.9px #1e96ff;">Système</div>
<div class="t" style="left:2813.20px;top:132.90px;font-size:24px;font-weight:400;color:#333;letter-spacing:0.808px;">Projet "Pulsar" modifié</div>
<div class="b" style="left:2450px;top:185.6px;width:934px;height:65.6px;background:#f7f7f7;border-radius:8px;"></div>
<div class="t" style="left:2476.82px;top:209.45px;font-size:22px;font-weight:400;color:#8f8f8f;letter-spacing:-1.260px;-webkit-text-stroke:0.25px #8f8f8f;font-family:'Liberation Mono',monospace;">Aujourd'hui 15:00</div>
<div class="t" style="left:2698.25px;top:208.78px;font-size:21.4px;font-weight:400;color:#1e96ff;letter-spacing:1.581px;-webkit-text-stroke:0.9px #1e96ff;">Système</div>
<div class="t" style="left:2813.20px;top:206.47px;font-size:24px;font-weight:400;color:#333;letter-spacing:0.798px;">Projet "Wave" modifié</div>
<div class="b" style="left:2450px;top:259.1px;width:934px;height:65.6px;background:#f7f7f7;border-radius:8px;"></div>
<div class="t" style="left:2476.82px;top:283.02px;font-size:22px;font-weight:400;color:#8f8f8f;letter-spacing:-1.260px;-webkit-text-stroke:0.25px #8f8f8f;font-family:'Liberation Mono',monospace;">Aujourd'hui 08:29</div>
<div class="t" style="left:2698.25px;top:282.35px;font-size:21.4px;font-weight:400;color:#1e96ff;letter-spacing:1.581px;-webkit-text-stroke:0.9px #1e96ff;">Système</div>
<div class="t" style="left:2814.20px;top:280.04px;font-size:24px;font-weight:400;color:#333;letter-spacing:0.658px;">Agent supprimé</div>
<div class="b" style="left:2450px;top:332.7px;width:934px;height:65.6px;background:#f7f7f7;border-radius:8px;"></div>
<div class="t" style="left:2476.82px;top:356.59px;font-size:22px;font-weight:400;color:#8f8f8f;letter-spacing:-1.260px;-webkit-text-stroke:0.25px #8f8f8f;font-family:'Liberation Mono',monospace;">Aujourd'hui 08:28</div>
<div class="t" style="left:2698.25px;top:355.92px;font-size:21.4px;font-weight:400;color:#1e96ff;letter-spacing:1.581px;-webkit-text-stroke:0.9px #1e96ff;">Système</div>
<div class="t" style="left:2814.20px;top:353.61px;font-size:24px;font-weight:400;color:#333;letter-spacing:0.805px;">Agent "Olgix" créé</div>
<div class="b" style="left:2450px;top:406.3px;width:934px;height:65.6px;background:#f7f7f7;border-radius:8px;"></div>
<div class="t" style="left:2476.82px;top:430.16px;font-size:22px;font-weight:400;color:#8f8f8f;letter-spacing:-1.260px;-webkit-text-stroke:0.25px #8f8f8f;font-family:'Liberation Mono',monospace;">Aujourd'hui 08:27</div>
<div class="t" style="left:2698.25px;top:429.49px;font-size:21.4px;font-weight:400;color:#1e96ff;letter-spacing:1.581px;-webkit-text-stroke:0.9px #1e96ff;">Système</div>
<div class="t" style="left:2814.20px;top:427.18px;font-size:24px;font-weight:400;color:#333;letter-spacing:0.892px;">Agent "Morpheus" créé</div>
<div class="b" style="left:2450px;top:479.8px;width:934px;height:65.6px;background:#f7f7f7;border-radius:8px;"></div>
<div class="t" style="left:2476.82px;top:503.73px;font-size:22px;font-weight:400;color:#8f8f8f;letter-spacing:-1.260px;-webkit-text-stroke:0.25px #8f8f8f;font-family:'Liberation Mono',monospace;">Aujourd'hui 08:27</div>
<div class="t" style="left:2698.25px;top:503.06px;font-size:21.4px;font-weight:400;color:#1e96ff;letter-spacing:1.581px;-webkit-text-stroke:0.9px #1e96ff;">Système</div>
<div class="t" style="left:2814.20px;top:500.75px;font-size:24px;font-weight:400;color:#333;letter-spacing:0.705px;">Agent "Albran" créé</div>
<div class="b" style="left:2450px;top:553.4px;width:934px;height:65.6px;background:#f7f7f7;border-radius:8px;"></div>
<div class="t" style="left:2476.82px;top:577.30px;font-size:22px;font-weight:400;color:#8f8f8f;letter-spacing:-1.260px;-webkit-text-stroke:0.25px #8f8f8f;font-family:'Liberation Mono',monospace;">Aujourd'hui 08:25</div>
<div class="t" style="left:2698.25px;top:576.63px;font-size:21.4px;font-weight:400;color:#1e96ff;letter-spacing:1.581px;-webkit-text-stroke:0.9px #1e96ff;">Système</div>
<div class="t" style="left:2814.20px;top:574.32px;font-size:24px;font-weight:400;color:#333;letter-spacing:0.790px;">Agent "Badix" créé</div>
<div class="b" style="left:2450px;top:627.0px;width:934px;height:65.6px;background:#f7f7f7;border-radius:8px;"></div>
<div class="t" style="left:2476.82px;top:650.87px;font-size:22px;font-weight:400;color:#8f8f8f;letter-spacing:-1.260px;-webkit-text-stroke:0.25px #8f8f8f;font-family:'Liberation Mono',monospace;">Aujourd'hui 08:24</div>
<div class="t" style="left:2698.25px;top:650.20px;font-size:21.4px;font-weight:400;color:#1e96ff;letter-spacing:1.581px;-webkit-text-stroke:0.9px #1e96ff;">Système</div>
<div class="t" style="left:2814.20px;top:647.89px;font-size:24px;font-weight:400;color:#333;letter-spacing:0.691px;">Agent "Gazou" créé</div>
<div class="b" style="left:2450px;top:700.6px;width:934px;height:65.6px;background:#f7f7f7;border-radius:8px;"></div>
<div class="t" style="left:2476.82px;top:724.44px;font-size:22px;font-weight:400;color:#8f8f8f;letter-spacing:-1.260px;-webkit-text-stroke:0.25px #8f8f8f;font-family:'Liberation Mono',monospace;">Aujourd'hui 08:24</div>
<div class="t" style="left:2698.25px;top:723.77px;font-size:21.4px;font-weight:400;color:#1e96ff;letter-spacing:1.581px;-webkit-text-stroke:0.9px #1e96ff;">Système</div>
<div class="t" style="left:2814.20px;top:721.46px;font-size:24px;font-weight:400;color:#333;letter-spacing:0.696px;">Agent "Algox" créé</div>
<div class="b" style="left:2450px;top:774.1px;width:934px;height:65.6px;background:#f7f7f7;border-radius:8px;"></div>
<div class="t" style="left:2476.82px;top:798.01px;font-size:22px;font-weight:400;color:#8f8f8f;letter-spacing:-1.260px;-webkit-text-stroke:0.25px #8f8f8f;font-family:'Liberation Mono',monospace;">Aujourd'hui 08:24</div>
<div class="t" style="left:2698.25px;top:797.34px;font-size:21.4px;font-weight:400;color:#1e96ff;letter-spacing:1.581px;-webkit-text-stroke:0.9px #1e96ff;">Système</div>
<div class="t" style="left:2814.20px;top:795.03px;font-size:24px;font-weight:400;color:#333;letter-spacing:0.838px;">Agent "Biorg" créé</div>
<div class="b" style="left:2450px;top:847.7px;width:934px;height:65.6px;background:#f7f7f7;border-radius:8px;"></div>
<div class="t" style="left:2476.82px;top:871.58px;font-size:22px;font-weight:400;color:#8f8f8f;letter-spacing:-1.260px;-webkit-text-stroke:0.25px #8f8f8f;font-family:'Liberation Mono',monospace;">Aujourd'hui 08:23</div>
<div class="t" style="left:2698.25px;top:870.91px;font-size:21.4px;font-weight:400;color:#1e96ff;letter-spacing:1.581px;-webkit-text-stroke:0.9px #1e96ff;">Système</div>
<div class="t" style="left:2814.20px;top:868.60px;font-size:24px;font-weight:400;color:#333;letter-spacing:0.842px;">Agent "Marvin" créé</div>
<div class="b" style="left:2450px;top:921.3px;width:934px;height:65.6px;background:#f7f7f7;border-radius:8px;"></div>
<div class="t" style="left:2476.82px;top:945.15px;font-size:22px;font-weight:400;color:#8f8f8f;letter-spacing:-1.260px;-webkit-text-stroke:0.25px #8f8f8f;font-family:'Liberation Mono',monospace;">Aujourd'hui 08:23</div>
<div class="t" style="left:2698.25px;top:944.48px;font-size:21.4px;font-weight:400;color:#1e96ff;letter-spacing:1.581px;-webkit-text-stroke:0.9px #1e96ff;">Système</div>
<div class="t" style="left:2814.20px;top:942.17px;font-size:24px;font-weight:400;color:#333;letter-spacing:0.683px;">Agent "Jarvis" créé</div>
<div class="b" style="left:2450px;top:994.8px;width:934px;height:65.6px;background:#f7f7f7;border-radius:8px;"></div>
<div class="t" style="left:2476.82px;top:1018.72px;font-size:22px;font-weight:400;color:#8f8f8f;letter-spacing:-1.260px;-webkit-text-stroke:0.25px #8f8f8f;font-family:'Liberation Mono',monospace;">Aujourd'hui 08:21</div>
<div class="t" style="left:2698.25px;top:1018.05px;font-size:21.4px;font-weight:400;color:#1e96ff;letter-spacing:1.581px;-webkit-text-stroke:0.9px #1e96ff;">Système</div>
<div class="t" style="left:2814.20px;top:1015.74px;font-size:24px;font-weight:400;color:#333;letter-spacing:0.892px;">Agent "Yolo" modifié</div>
<div class="b" style="left:2450px;top:1068.4px;width:934px;height:65.6px;background:#f7f7f7;border-radius:8px;"></div>
<div class="t" style="left:2476.82px;top:1092.29px;font-size:22px;font-weight:400;color:#8f8f8f;letter-spacing:-1.260px;-webkit-text-stroke:0.25px #8f8f8f;font-family:'Liberation Mono',monospace;">Aujourd'hui 08:21</div>
<div class="t" style="left:2698.25px;top:1091.62px;font-size:21.4px;font-weight:400;color:#1e96ff;letter-spacing:1.581px;-webkit-text-stroke:0.9px #1e96ff;">Système</div>
<div class="t" style="left:2814.20px;top:1089.31px;font-size:24px;font-weight:400;color:#333;letter-spacing:0.866px;">Agent "Buio" modifié</div>
<div class="b" style="left:2450px;top:1142.0px;width:934px;height:65.6px;background:#f7f7f7;border-radius:8px;"></div>
<div class="t" style="left:2475.82px;top:1165.86px;font-size:22px;font-weight:400;color:#8f8f8f;letter-spacing:-1.260px;-webkit-text-stroke:0.25px #8f8f8f;font-family:'Liberation Mono',monospace;">Hier 07:37</div>
<div class="t" style="left:2613.95px;top:1165.19px;font-size:21.4px;font-weight:400;color:#1e96ff;letter-spacing:1.597px;-webkit-text-stroke:0.9px #1e96ff;">Système</div>
<div class="t" style="left:2729.40px;top:1162.88px;font-size:24px;font-weight:400;color:#333;letter-spacing:0.718px;">Tâche "Intégration de Gmail" modifiée</div>
<div class="b" style="left:2450px;top:1215.5px;width:934px;height:65.6px;background:#f7f7f7;border-radius:8px;"></div>
<div class="t" style="left:2475.82px;top:1239.43px;font-size:22px;font-weight:400;color:#8f8f8f;letter-spacing:-1.260px;-webkit-text-stroke:0.25px #8f8f8f;font-family:'Liberation Mono',monospace;">Hier 07:37</div>
<div class="t" style="left:2613.95px;top:1238.76px;font-size:21.4px;font-weight:400;color:#1e96ff;letter-spacing:1.597px;-webkit-text-stroke:0.9px #1e96ff;">Système</div>
<div class="t" style="left:2729.40px;top:1236.45px;font-size:24px;font-weight:400;color:#333;letter-spacing:0.758px;">Tâche "Intégration de Jira" modifiée</div>
<div class="b" style="left:2450px;top:1289.1px;width:934px;height:65.6px;background:#f7f7f7;border-radius:8px;"></div>
<div class="t" style="left:2475.82px;top:1313.00px;font-size:22px;font-weight:400;color:#8f8f8f;letter-spacing:-1.260px;-webkit-text-stroke:0.25px #8f8f8f;font-family:'Liberation Mono',monospace;">Hier 07:37</div>
<div class="t" style="left:2613.95px;top:1312.33px;font-size:21.4px;font-weight:400;color:#1e96ff;letter-spacing:1.597px;-webkit-text-stroke:0.9px #1e96ff;">Système</div>
<div class="t" style="left:2729.40px;top:1310.02px;font-size:24px;font-weight:400;color:#333;letter-spacing:0.793px;">Tâche "Intégration de Notion" modifiée</div>
<div class="b" style="left:2450px;top:1362.7px;width:934px;height:65.6px;background:#f7f7f7;border-radius:8px;"></div>
<div class="t" style="left:2475.82px;top:1386.57px;font-size:22px;font-weight:400;color:#8f8f8f;letter-spacing:-1.260px;-webkit-text-stroke:0.25px #8f8f8f;font-family:'Liberation Mono',monospace;">Hier 07:37</div>
<div class="t" style="left:2613.95px;top:1385.90px;font-size:21.4px;font-weight:400;color:#1e96ff;letter-spacing:1.597px;-webkit-text-stroke:0.9px #1e96ff;">Système</div>
<div class="t" style="left:2729.40px;top:1383.59px;font-size:24px;font-weight:400;color:#333;letter-spacing:0.661px;">Tâche "Intégration de Gmail" créée</div>
<div class="b" style="left:2450px;top:1436.3px;width:934px;height:65.6px;background:#f7f7f7;border-radius:8px;"></div>
<div class="t" style="left:2475.82px;top:1460.14px;font-size:22px;font-weight:400;color:#8f8f8f;letter-spacing:-1.260px;-webkit-text-stroke:0.25px #8f8f8f;font-family:'Liberation Mono',monospace;">Hier 07:37</div>
<div class="t" style="left:2613.95px;top:1459.47px;font-size:21.4px;font-weight:400;color:#1e96ff;letter-spacing:1.597px;-webkit-text-stroke:0.9px #1e96ff;">Système</div>
<div class="t" style="left:2729.40px;top:1457.16px;font-size:24px;font-weight:400;color:#333;letter-spacing:0.762px;">Tâche "Intégration de Notion" créée</div>
<div class="b" style="left:2450px;top:1509.8px;width:934px;height:65.6px;background:#f7f7f7;border-radius:8px;"></div>
<div class="t" style="left:2475.82px;top:1533.71px;font-size:22px;font-weight:400;color:#8f8f8f;letter-spacing:-1.260px;-webkit-text-stroke:0.25px #8f8f8f;font-family:'Liberation Mono',monospace;">Hier 07:37</div>
<div class="t" style="left:2613.95px;top:1533.04px;font-size:21.4px;font-weight:400;color:#1e96ff;letter-spacing:1.597px;-webkit-text-stroke:0.9px #1e96ff;">Système</div>
<div class="t" style="left:2729.40px;top:1530.73px;font-size:24px;font-weight:400;color:#333;letter-spacing:0.722px;">Tâche "Intégration de Jira" créée</div>
<div class="b" style="left:2450px;top:1583.4px;width:934px;height:65.6px;background:#f7f7f7;border-radius:8px;"></div>
<div class="t" style="left:2475.82px;top:1607.28px;font-size:22px;font-weight:400;color:#8f8f8f;letter-spacing:-1.260px;-webkit-text-stroke:0.25px #8f8f8f;font-family:'Liberation Mono',monospace;">Hier 07:37</div>
<div class="t" style="left:2613.95px;top:1606.61px;font-size:21.4px;font-weight:400;color:#1e96ff;letter-spacing:1.597px;-webkit-text-stroke:0.9px #1e96ff;">Système</div>
<div class="t" style="left:2729.40px;top:1604.30px;font-size:24px;font-weight:400;color:#333;letter-spacing:0.635px;">Tâche "Accepter les payments Paypal" modifiée</div>
<div class="b" style="left:2450px;top:1657.0px;width:934px;height:65.6px;background:#f7f7f7;border-radius:8px;"></div>
<div class="t" style="left:2475.82px;top:1680.85px;font-size:22px;font-weight:400;color:#8f8f8f;letter-spacing:-1.260px;-webkit-text-stroke:0.25px #8f8f8f;font-family:'Liberation Mono',monospace;">Hier 07:36</div>
<div class="t" style="left:2613.95px;top:1680.18px;font-size:21.4px;font-weight:400;color:#1e96ff;letter-spacing:1.597px;-webkit-text-stroke:0.9px #1e96ff;">Système</div>
<div class="t" style="left:2729.40px;top:1677.87px;font-size:24px;font-weight:400;color:#333;letter-spacing:0.583px;">Tâche "Accepter les payments Paypal" créée</div>
<div class="b" style="left:2450px;top:1730.5px;width:934px;height:65.6px;background:#f7f7f7;border-radius:8px;"></div>
<div class="t" style="left:2475.82px;top:1754.42px;font-size:22px;font-weight:400;color:#8f8f8f;letter-spacing:-1.260px;-webkit-text-stroke:0.25px #8f8f8f;font-family:'Liberation Mono',monospace;">Hier 07:36</div>
<div class="t" style="left:2613.95px;top:1753.75px;font-size:21.4px;font-weight:400;color:#1e96ff;letter-spacing:1.597px;-webkit-text-stroke:0.9px #1e96ff;">Système</div>
<div class="t" style="left:2729.40px;top:1751.44px;font-size:24px;font-weight:400;color:#333;letter-spacing:0.710px;">Tâche "Accepter les paiements Stripe" modifiée</div>
<div class="b" style="left:2450px;top:1804.1px;width:934px;height:65.6px;background:#f7f7f7;border-radius:8px;"></div>
<div class="t" style="left:2475.82px;top:1827.99px;font-size:22px;font-weight:400;color:#8f8f8f;letter-spacing:-1.260px;-webkit-text-stroke:0.25px #8f8f8f;font-family:'Liberation Mono',monospace;">Hier 07:36</div>
<div class="t" style="left:2613.95px;top:1827.32px;font-size:21.4px;font-weight:400;color:#1e96ff;letter-spacing:1.597px;-webkit-text-stroke:0.9px #1e96ff;">Système</div>
<div class="t" style="left:2729.40px;top:1825.01px;font-size:24px;font-weight:400;color:#333;letter-spacing:0.740px;">Tâche "Templates de rôles prédisponibles" modifiée</div>
<div class="b" style="left:2450px;top:1877.7px;width:934px;height:65.6px;background:#f7f7f7;border-radius:8px;"></div>
<div class="b" style="left:3404px;top:100px;width:12px;height:430px;background:#e3e3e3;border-radius:6px;"></div>
<svg class="b" style="left:0;top:1870px" width="12" height="22" viewBox="0 0 12 22"><path d="M0 3.5 C1 11 4 17.5 8.6 22 L0 22 Z" fill="#2b2b2b"/><path d="M0 3.5 C1 11 4 17.5 8.6 22" fill="none" stroke="#ffffff" stroke-width="1.2"/></svg>
<svg class="b" style="left:3408px;top:1870px" width="12" height="22" viewBox="0 0 12 22"><path d="M12 3.5 C11 11 8 17.5 3.4 22 L12 22 Z" fill="#2b2b2b"/><path d="M12 3.5 C11 11 8 17.5 3.4 22" fill="none" stroke="#ffffff" stroke-width="1.2"/></svg>
</body></html>
